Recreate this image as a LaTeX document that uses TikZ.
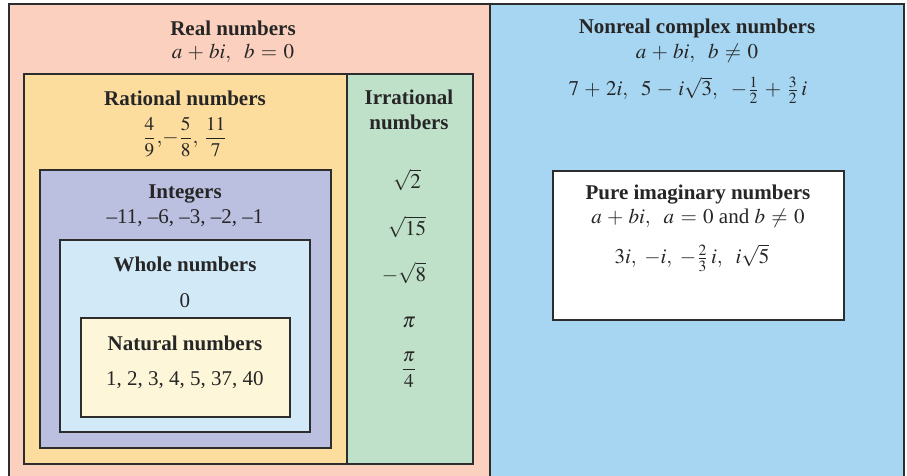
\documentclass[tikz,border=0pt]{standalone}
\usepackage{amsmath}
\usepackage{mathptmx}
\usepackage{fontspec}
\setmainfont{Liberation Serif}
\usepackage{graphicx}
\usepackage{tikz}
\usetikzlibrary{positioning}
\definecolor{setline}{RGB}{45,45,45}
\definecolor{realfill}{RGB}{251,208,190}
\definecolor{ratfill}{RGB}{253,221,158}
\definecolor{irrfill}{RGB}{191,224,201}
\definecolor{intfill}{RGB}{188,192,224}
\definecolor{wholefill}{RGB}{210,233,248}
\definecolor{natfill}{RGB}{253,246,216}
\definecolor{cplxfill}{RGB}{167,214,242}
\newcommand{\setfrac}[2]{\scalebox{0.92}{\(\dfrac{#1}{#2}\)}}
\medmuskip=4.5mu plus 2mu minus 2mu
\thickmuskip=5.5mu plus 3mu
\tikzset{
  setbox/.style={draw=setline, line width=1pt},
  settitle/.style={font=\fontsize{10.5}{12.5}\selectfont\bfseries, text=black!85, align=center, inner sep=0pt},
  setmath/.style={font=\fontsize{10.5}{12.5}\selectfont, text=black!85, align=center, inner sep=0pt}
}
\begin{document}
\begin{tikzpicture}[x=0.5pt, y=-0.5pt]
\useasboundingbox (0,0) rectangle (907,476);
\clip (0,0) rectangle (907,476);
% set rectangles, outside in
\draw[setbox, fill=realfill] (9,4) rectangle (490,490);
\draw[setbox, fill=cplxfill] (490,4) rectangle (904,490);
\draw[setbox, fill=ratfill] (24,74) rectangle (347,464);
\draw[setbox, fill=irrfill] (347,74) rectangle (473,464);
\draw[setbox, fill=intfill] (40,170) rectangle (331,448);
\draw[setbox, fill=wholefill] (60,240) rectangle (310,432);
\draw[setbox, fill=natfill] (81,318) rectangle (290,417);
\draw[setbox, fill=white] (553,171) rectangle (844,320);

% real numbers
\node[settitle] (realttl) at (233,28) {Real numbers};
\node[setmath] (realdef) at (233,53) {\(a + bi,\ \ b = 0\)};
\node[settitle] (ratttl) at (185,98) {Rational numbers};
\node[setmath] (ratex) at (185,137) {\setfrac{4}{9}\(,\)\(-\)\setfrac{5}{8}\(,\)\ \setfrac{11}{7}};
\node[settitle] (intttl) at (185,194) {Integers};
\node[setmath] (intex) at (185,218) {--11, --6, --3, --2, --1};
\node[settitle] (wholettl) at (185,264) {Whole numbers};
\node[setmath] (wholeex) at (185,301) {0};
\node[settitle] (natttl) at (185,343) {Natural numbers};
\node[setmath] (natex) at (185,380) {1, 2, 3, 4, 5, 37, 40};

% irrational numbers
\node[settitle] (irrttl) at (409,110) {Irrational\\numbers};
\node[setmath] (irra) at (407,180) {\(\sqrt{2}\)};
\node[setmath] (irrb) at (407,227) {\(\sqrt{15}\)};
\node[setmath] (irrc) at (404,273) {\(-\sqrt{8}\)};
\node[setmath] (irrd) at (409,322) {\(\pi\)};
\node[setmath] (irre) at (409,370) {\setfrac{\pi}{4}};

% nonreal complex numbers
\node[settitle] (cplxttl) at (697,28) {Nonreal complex numbers};
\node[setmath] (cplxdef) at (697,53) {\(a + bi,\ \ b \neq 0\)};
\node[setmath] (cplxex) at (688,90) {\(7 + 2i,\ \ 5 - i\sqrt{3},\ \ -\tfrac{1}{2} + \tfrac{3}{2}\,i\)};
\node[settitle] (imagttl) at (698,195) {Pure imaginary numbers};
\node[setmath] (imagdef) at (698,218) {\(a + bi,\ \ a = 0\) and \(b \neq 0\)};
\node[setmath] (imagex) at (692,258) {\(3i,\ -i,\ -\tfrac{2}{3}\,i,\ \ i\sqrt{5}\)};
\end{tikzpicture}
\end{document}
